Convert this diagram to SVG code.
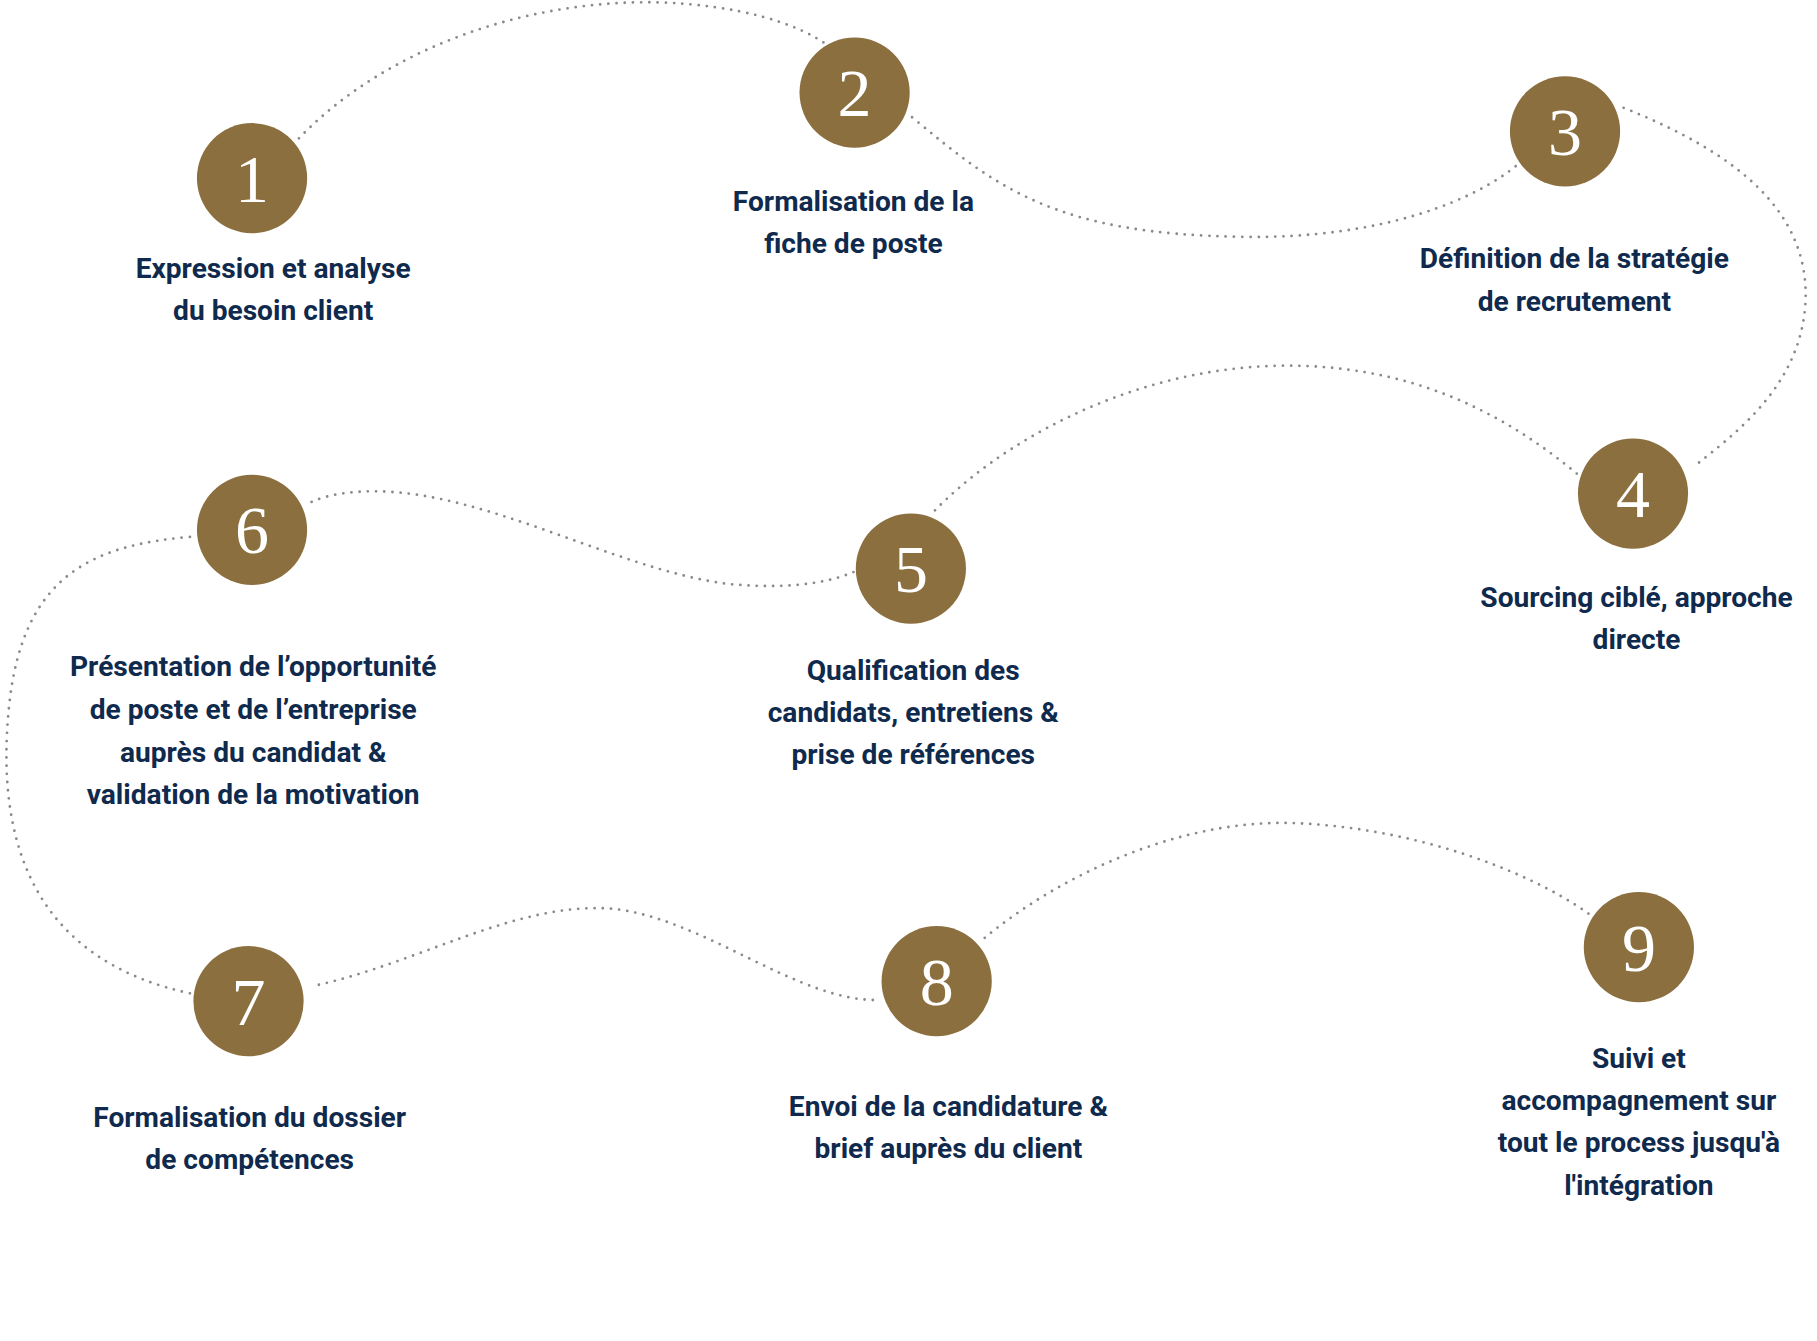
<svg xmlns="http://www.w3.org/2000/svg" width="1817" height="1341" viewBox="0 0 1817 1341">
<style>
.c{fill:#8b6f3e}
.n{fill:#fff;font-family:"Liberation Serif",serif;font-size:58px;text-anchor:middle}
.t{fill:#0f2a4d;font-family:Roboto,"Liberation Sans",sans-serif;font-weight:700;font-size:24px;text-anchor:middle}
.p{fill:none;stroke:#8a8a8a;stroke-width:2.4;stroke-dasharray:0 7;stroke-linecap:round}
</style>
<rect width="1817" height="1341" fill="#fff"/>
<g transform="scale(1.1723)">
<g id="connectors">
<path class="p" d="M255,118 C330,40 450,0 560,2 C630,4 680,20 705,38"/>
<path class="p" d="M778,100 C850,160 900,200 1060,202 C1180,204 1260,170 1295,140"/>
<path class="p" d="M1385,92 C1480,130 1545,180 1540,260 C1535,330 1480,370 1445,398"/>
<path class="p" d="M1345,404 C1280,350 1200,310 1090,312 C960,315 850,380 795,438"/>
<path class="p" d="M728,488 C700,500 660,502 620,498 C520,485 400,410 300,420 C280,422 270,426 262,430"/>
<path class="p" d="M162,458 C80,465 20,490 8,600 C-5,720 30,820 165,848"/>
<path class="p" d="M272,840 C360,820 440,770 520,775 C600,782 680,855 750,853"/>
<path class="p" d="M840,800 C900,750 1000,700 1100,702 C1200,705 1300,740 1356,780"/>
</g>
<g id="n1"><circle class="c" cx="215" cy="152" r="47"/><text class="n" x="215" y="172">1</text><text class="t" x="233" y="237">Expression et analyse</text><text class="t" x="233" y="273">du besoin client</text></g>
<g id="n2"><circle class="c" cx="729" cy="79" r="47"/><text class="n" x="729" y="99">2</text><text class="t" x="728" y="180">Formalisation de la</text><text class="t" x="728" y="216">fiche de poste</text></g>
<g id="n3"><circle class="c" cx="1335" cy="112" r="47"/><text class="n" x="1335" y="132">3</text><text class="t" x="1343" y="229">Définition de la stratégie</text><text class="t" x="1343" y="265">de recrutement</text></g>
<g id="n4"><circle class="c" cx="1393" cy="421" r="47"/><text class="n" x="1393" y="441">4</text><text class="t" x="1396" y="518">Sourcing ciblé, approche</text><text class="t" x="1396" y="554">directe</text></g>
<g id="n5"><circle class="c" cx="777" cy="485" r="47"/><text class="n" x="777" y="505">5</text><text class="t" x="779" y="580">Qualification des</text><text class="t" x="779" y="616">candidats, entretiens &amp;</text><text class="t" x="779" y="652">prise de références</text></g>
<g id="n6"><circle class="c" cx="215" cy="452" r="47"/><text class="n" x="215" y="472">6</text><text class="t" x="216" y="577">Présentation de l’opportunité</text><text class="t" x="216" y="613">de poste et de l’entreprise</text><text class="t" x="216" y="650">auprès du candidat &amp;</text><text class="t" x="216" y="686">validation de la motivation</text></g>
<g id="n7"><circle class="c" cx="212" cy="854" r="47"/><text class="n" x="212" y="874">7</text><text class="t" x="213" y="961">Formalisation du dossier</text><text class="t" x="213" y="997">de compétences</text></g>
<g id="n8"><circle class="c" cx="799" cy="837" r="47"/><text class="n" x="799" y="857">8</text><text class="t" x="809" y="952">Envoi de la candidature &amp;</text><text class="t" x="809" y="988">brief auprès du client</text></g>
<g id="n9"><circle class="c" cx="1398" cy="808" r="47"/><text class="n" x="1398" y="828">9</text><text class="t" x="1398" y="911">Suivi et</text><text class="t" x="1398" y="947">accompagnement sur</text><text class="t" x="1398" y="983">tout le process jusqu'à</text><text class="t" x="1398" y="1019">l'intégration</text></g>
</g>
</svg>
